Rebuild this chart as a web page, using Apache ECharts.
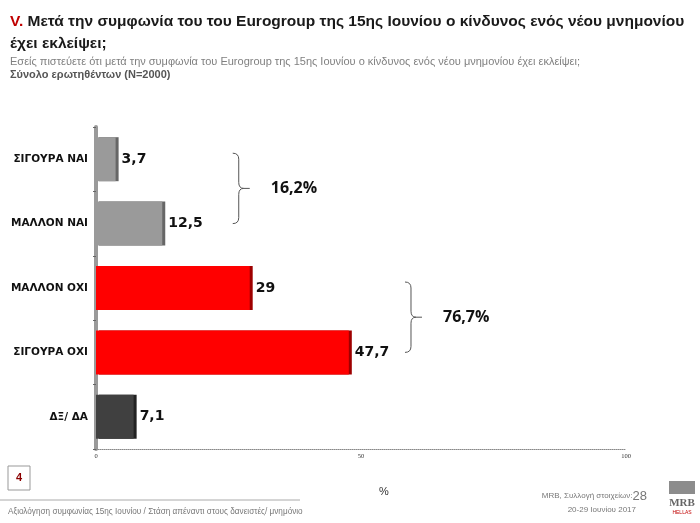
<!DOCTYPE html>
<html><head><meta charset="utf-8">
<script src="https://cdn.jsdelivr.net/npm/echarts@6/dist/echarts.min.js"></script>
<style>html,body{margin:0;padding:0;background:#fff}#c{width:700px;height:523px}</style>
</head><body><div id="c"></div>
<script>
const categories = ['ΣΙΓΟΥΡΑ ΝΑΙ', 'ΜΑΛΛΟΝ ΝΑΙ', 'ΜΑΛΛΟΝ ΟΧΙ', 'ΣΙΓΟΥΡΑ ΟΧΙ', 'ΔΞ/ ΔΑ'];
const values = [3.7, 12.5, 29, 47.7, 7.1];
const barColors = ['#9a9a9a', '#9a9a9a', '#ff0000', '#ff0000', '#404040'];
const edgeColors = ['#666666', '#666666', '#9e0000', '#9e0000', '#222222'];
const xTicks = [0, 50, 100];
// bracket groups: [x position (value), first category index, last category index, label]
const groups = [[25.8, 0, 1, '16,2%'], [58.3, 2, 3, '76,7%']];

const chart = echarts.init(document.getElementById('c'), null, {renderer: 'canvas'});
const fmt = v => String(v).replace('.', ',');
const sans = 'Liberation Sans';

chart.setOption({
  animation: false,
  grid: {left: 96, right: 74, top: 127, bottom: 74, containLabel: false},
  title: [
    {text: '{r|V.} Μετά την συμφωνία του του Eurogroup της 15ης Ιουνίου ο κίνδυνος ενός νέου μνημονίου\nέχει εκλείψει;',
     left: 5, top: 6,
     textStyle: {fontFamily: sans, fontSize: 15.5, fontWeight: 'bold', color: '#1a1a1a', lineHeight: 22,
       rich: {r: {color: '#c00000', fontFamily: sans, fontSize: 15.5, fontWeight: 'bold'}}}},
    {text: 'Εσείς πιστεύετε ότι μετά την συμφωνία του Eurogroup της 15ης Ιουνίου ο κίνδυνος ενός νέου μνημονίου έχει εκλείψει;',
     left: 5, top: 51, textStyle: {fontFamily: sans, fontSize: 11, fontWeight: 'normal', color: '#808080'}},
    {text: 'Σύνολο ερωτηθέντων (N=2000)',
     left: 5, top: 64, textStyle: {fontFamily: sans, fontSize: 11, fontWeight: 'bold', color: '#555555'}},
    {text: '%', left: 374, top: 481, textStyle: {fontFamily: sans, fontSize: 11, fontWeight: 'normal', color: '#333'}}
  ],
  xAxis: {
    type: 'value', min: 0, max: 100, interval: 50,
    axisLine: {show: true, lineStyle: {color: '#888', type: 'dotted', width: 1}},
    axisTick: {show: false},
    splitLine: {show: false},
    axisLabel: {fontSize: 6.5, color: '#333', fontFamily: 'Liberation Serif', margin: 4,
      formatter: v => xTicks.includes(v) ? String(v) : ''}
  },
  yAxis: {
    type: 'category', data: categories, inverse: true,
    axisLine: {show: true, lineStyle: {color: '#9a9a9a', width: 4}},
    axisTick: {show: true, length: 3, lineStyle: {color: '#666'}},
    axisLabel: {fontFamily: 'DejaVu Sans', fontWeight: 'bold', fontSize: 10.5, color: '#111', margin: 8}
  },
  series: [
    {
      type: 'bar', barWidth: 44,
      data: values.map((v, i) => ({value: v, itemStyle: {color: barColors[i], shadowColor: edgeColors[i], shadowOffsetX: 3, shadowBlur: 0}})),
      label: {show: true, position: 'right', distance: 6, formatter: p => fmt(p.value),
        fontFamily: 'DejaVu Sans', fontWeight: 'bold', fontSize: 14, color: '#111'}
    },
    {
      type: 'custom',
      data: groups.map(g => [g[0], g[1], g[2], g[3]]),
      renderItem: function (params, api) {
        const x = api.value(0);
        const p1 = api.coord([x, api.value(1)]);
        const p2 = api.coord([x, api.value(2)]);
        const x0 = p1[0], y1 = p1[1] - 6, y2 = p2[1];
        const ym = (y1 + y2) / 2;
        const w = 6;
        const path = `M${x0} ${y1} Q${x0 + w} ${y1} ${x0 + w} ${y1 + 6} L${x0 + w} ${ym - 6} Q${x0 + w} ${ym} ${x0 + w + 5} ${ym} Q${x0 + w} ${ym} ${x0 + w} ${ym + 6} L${x0 + w} ${y2 - 6} Q${x0 + w} ${y2} ${x0} ${y2}`;
        return {
          type: 'group',
          children: [
            {type: 'path', shape: {pathData: path}, style: {fill: null, stroke: '#555', lineWidth: 1}},
            {type: 'line', shape: {x1: x0 + w + 5, y1: ym, x2: x0 + w + 11, y2: ym}, style: {stroke: '#555', lineWidth: 1}},
            {type: 'text', x: x0 + 38, y: ym, style: {text: api.value(3), fontFamily: 'Open Sans', fontWeight: 'bold', fontSize: 16, fill: '#111', verticalAlign: 'middle'}}
          ]
        };
      },
      z: 5
    }
  ],
  graphic: [
    {type: 'rect', shape: {x: 8, y: 466, width: 22, height: 24}, style: {fill: '#fff', stroke: '#999', lineWidth: 1}},
    {type: 'text', x: 19, y: 478, style: {text: '4', fontFamily: sans, fontWeight: 'bold', fontSize: 11, fill: '#8b0000', align: 'center', verticalAlign: 'middle'}},
    {type: 'line', shape: {x1: 0, y1: 500, x2: 300, y2: 500}, style: {stroke: '#aaa', lineWidth: 1}},
    {type: 'text', x: 8, y: 512, style: {text: 'Αξιολόγηση συμφωνίας 15ης Ιουνίου / Στάση απέναντι στους δανειστές/ μνημόνιο', fontFamily: sans, fontSize: 8.2, fill: '#777', verticalAlign: 'middle'}},
    {type: 'text', x: 647, y: 496, style: {text: 'MRB, Συλλογή στοιχείων:{b|28}', fontFamily: sans, fontSize: 8, fill: '#777', align: 'right', verticalAlign: 'middle', rich: {b: {fontSize: 13, fill: '#777', fontFamily: sans}}}},
    {type: 'text', x: 636, y: 510, style: {text: '20-29 Ιουνίου 2017', fontFamily: sans, fontSize: 8, fill: '#777', align: 'right', verticalAlign: 'middle'}},
    {type: 'rect', shape: {x: 669, y: 481, width: 26, height: 13}, style: {fill: '#8c8c8c'}},
    {type: 'text', x: 682, y: 503, style: {text: 'MRB', fontFamily: 'Liberation Serif', fontWeight: 'bold', fontSize: 11, fill: '#666', align: 'center', verticalAlign: 'middle'}},
    {type: 'text', x: 682, y: 513, style: {text: 'HELLAS', fontFamily: sans, fontSize: 5, fill: '#c00000', align: 'center', verticalAlign: 'middle'}}
  ]
});
</script></body></html>
